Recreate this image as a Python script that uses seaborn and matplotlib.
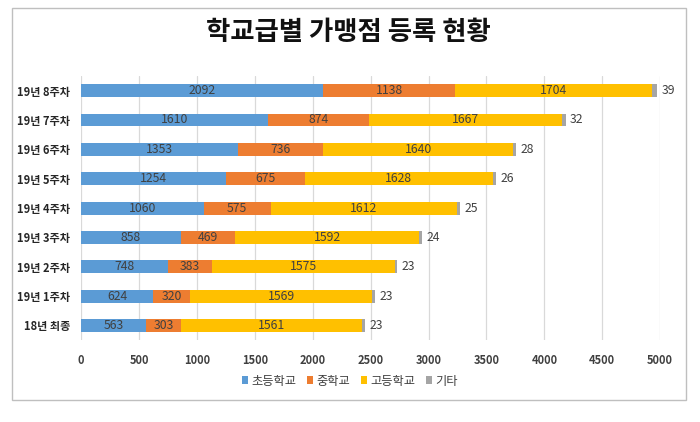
import matplotlib
matplotlib.use("Agg")
import matplotlib.pyplot as plt
import seaborn as sns
import pandas as pd
import numpy as np
from matplotlib.patches import Patch, Rectangle

categories = ["19년 8주차", "19년 7주차", "19년 6주차", "19년 5주차", "19년 4주차",
              "19년 3주차", "19년 2주차", "19년 1주차", "18년 최종"]
elem = [2092, 1610, 1353, 1254, 1060, 858, 748, 624, 563]
middle = [1138, 874, 736, 675, 575, 469, 383, 320, 303]
high = [1704, 1667, 1640, 1628, 1612, 1592, 1575, 1569, 1561]
other = [39, 32, 28, 26, 25, 24, 23, 23, 23]
series_names = ["초등학교", "중학교", "고등학교", "기타"]
colors = ["#5B9BD5", "#ED7D31", "#FFC000", "#A5A5A5"]

sns.set_theme(style="white")
plt.rcParams['font.family'] = ['Noto Sans CJK KR', 'DejaVu Sans']

series = [elem, middle, high, other]
cum = np.cumsum(np.array(series), axis=0)

fig = plt.figure(figsize=(7, 4.22), dpi=100)
ax = fig.add_axes([0.116, 0.194, 0.827, 0.626])

# draw cumulative bars back to front
for i in range(3, -1, -1):
    df = pd.DataFrame({"cat": categories, "val": cum[i]})
    sns.barplot(data=df, x="val", y="cat", orient="h", color=colors[i],
                saturation=1, width=0.44, ax=ax, order=categories,
                linewidth=0, edgecolor="none")

# labels
for j, cat in enumerate(categories):
    start = 0
    for i in range(3):
        v = series[i][j]
        ax.text(start + v / 2, j, str(v), ha="center", va="center",
                fontsize=8.8, color="#404040")
        start += v
    ax.text(cum[3][j] + 40, j, str(other[j]), ha="left", va="center",
            fontsize=8.8, color="#404040")

ax.set_xlim(0, 5000)
ax.set_ylim(len(categories) - 0.5, -0.5)
ax.set_xticks(range(0, 5001, 500))
ax.set_xticklabels([str(t) for t in range(0, 5001, 500)], fontsize=8,
                   fontweight="bold", color="#404040")
ax.set_yticks(range(len(categories)))
ax.set_yticklabels(categories, fontsize=8, fontweight="bold", color="#262626")
ax.set_xlabel("")
ax.set_ylabel("")
ax.grid(axis="x", color="#D9D9D9", linewidth=0.9)
ax.set_axisbelow(True)
for s in ax.spines.values():
    s.set_visible(False)
ax.tick_params(axis="x", length=0, pad=10)
ax.tick_params(axis="y", length=0, pad=8)

fig.suptitle("학교급별 가맹점 등록 현황", x=0.497, y=0.955, fontsize=19,
             fontweight="bold", color="#111111")

handles = [Patch(facecolor=c, edgecolor="none") for c in colors]
fig.legend(handles, series_names, loc="center", bbox_to_anchor=(0.5, 0.097),
           ncol=4, frameon=False, fontsize=8.8, handlelength=0.45, handleheight=0.6,
           handletextpad=0.3, columnspacing=0.9, labelcolor="#404040")

fig.patches.append(Rectangle((12 / 700, 1 - 400 / 422), 674 / 700, 392 / 422,
                             transform=fig.transFigure, fill=False,
                             edgecolor="#BFBFBF", linewidth=1))

fig.savefig("out.png", dpi=100)
